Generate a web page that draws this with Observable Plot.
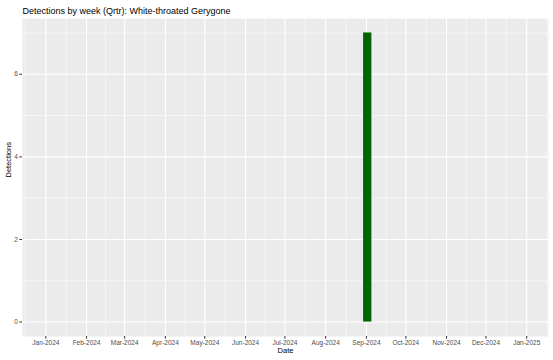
<!DOCTYPE html>
<html>
<head>
<meta charset="utf-8">
<script src="https://cdn.jsdelivr.net/npm/d3@7"></script>
<script src="https://cdn.jsdelivr.net/npm/@observablehq/plot@0.6"></script>
<style>
  html, body { margin: 0; padding: 0; background: #fff; }
  svg { display: block; }
</style>
</head>
<body>
<div id="chart"></div>
<script>
// ---- data ----
const chartTitle = "Detections by week (Qrtr): White-throated Gerygone";
const xTitle = "Date";
const yTitle = "Detections";
const weekDates = ["2024-09-02"];
const weekCounts = [7];
const yTicks = [0, 2, 4, 6];
const xTickDates = ["2024-01-01","2024-02-01","2024-03-01","2024-04-01","2024-05-01","2024-06-01",
  "2024-07-01","2024-08-01","2024-09-01","2024-10-01","2024-11-01","2024-12-01","2025-01-01"];
const xDomain = ["2023-12-14T06:00:00Z", "2025-01-17T14:00:00Z"];
const yDomain = [-0.35, 7.35];

const DAY = 86400000;
const data = weekDates.map((d, i) => ({date: new Date(d), count: weekCounts[i]}));
const xTicks = xTickDates.map(d => new Date(d));
// minor grid at midpoints between month breaks
const monthEdges = [new Date("2023-12-01"), ...xTicks, new Date("2025-02-01")];
const xMinor = d3.pairs(monthEdges).map(([a, b]) => new Date((+a + +b) / 2))
  .filter(d => d >= new Date(xDomain[0]) && d <= new Date(xDomain[1]));
const yMinor = [1, 3, 5, 7];
const fmt = d3.utcFormat("%b-%Y");

const plot = Plot.plot({
  width: 553,
  height: 360,
  marginLeft: 22,
  marginRight: 5,
  marginTop: 18,
  marginBottom: 24,
  style: {fontFamily: "'Liberation Sans', Arial, sans-serif", background: "#fff"},
  x: {type: "utc", domain: xDomain.map(d => new Date(d))},
  y: {domain: yDomain},
  marks: [
    Plot.frame({fill: "#ebebeb", stroke: null}),
    Plot.gridX(xMinor, {stroke: "#fff", strokeOpacity: 1, strokeWidth: 0.55}),
    Plot.gridY(yMinor, {stroke: "#fff", strokeOpacity: 1, strokeWidth: 0.55}),
    Plot.gridX(xTicks, {stroke: "#fff", strokeOpacity: 1, strokeWidth: 1.1}),
    Plot.gridY(yTicks, {stroke: "#fff", strokeOpacity: 1, strokeWidth: 1.1}),
    Plot.rectY(data, {
      x1: d => new Date(+d.date - 3.15 * DAY),
      x2: d => new Date(+d.date + 3.15 * DAY),
      y: "count",
      fill: "#006400"
    }),
    Plot.axisX(xTicks, {
      tickFormat: fmt, tickSize: 2.7, tickPadding: 1.5, stroke: "#333",
      fontSize: 6.5, fill: "#4d4d4d", label: null
    }),
    Plot.axisY(yTicks, {
      tickSize: 2.7, tickPadding: 2, stroke: "#333",
      fontSize: 6.5, fill: "#4d4d4d", label: null
    }),
    Plot.text([xTitle], {
      text: d => d, frameAnchor: "bottom", dy: 16.5, fontSize: 7.5, fill: "#000"
    }),
    Plot.text([yTitle], {
      text: d => d, frameAnchor: "left", dx: -14, rotate: -90, fontSize: 7.5, fill: "#000"
    }),
    Plot.text([chartTitle], {
      text: d => d, frameAnchor: "top-left", textAnchor: "start",
      dy: -11, fontSize: 9, fill: "#000"
    })
  ]
});
document.getElementById("chart").appendChild(plot);
</script>
</body>
</html>
